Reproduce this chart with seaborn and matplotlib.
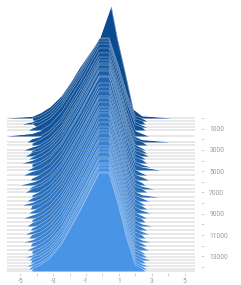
import matplotlib
matplotlib.use('Agg')
import matplotlib.pyplot as plt
import seaborn as sns

sns.set_style('ticks')
plt.rcParams['font.family'] = ['Roboto', 'DejaVu Sans']

# one histogram per recorded step, drawn back (top) to front (bottom)
steps = [0, 280, 560, 850, 1130, 1690, 2250, 2540, 3010, 3290,
         3570, 3850, 4230, 4600, 4890, 5360, 5830, 6300, 6670, 6960,
         7430, 7800, 8180, 8550, 8930, 9400, 9770, 10150, 10530, 10900,
         11280, 11650, 12030, 12410, 12780, 13060, 13350, 13630, 13910, 14190,
         14380]
# peak height of each histogram (offset-axis units)
peak_h = [10530, 7800, 7990, 8080, 8080, 8270, 8370, 8270, 8460, 8460,
          8550, 8460, 8650, 8550, 8740, 8650, 8740, 8840, 8740, 8840,
          8930, 8840, 8930, 9020, 8930, 9020, 8930, 9020, 9120, 9020,
          9120, 9020, 9120, 9210, 9120, 9210, 9120, 9210, 9210, 9120,
          9210]
# where the thin tails of each histogram end
left_tail = [-5.82, -4.2, -4.9, -4.0, -4.5, -5.82, -4.6, -4.3, -4.8, -4.4,
             -4.7, -4.5, -4.9, -4.3, -4.6, -4.8, -4.4, -5.0, -4.5, -4.7,
             -4.3, -4.6, -4.9, -4.4, -4.5, -4.8, -4.3, -4.6, -4.4, -4.7,
             -4.5, -4.8, -4.4, -4.6, -4.3, -4.7, -4.5, -4.4, -4.6, -4.5,
             -4.3]
right_tail = [4.2, 2.7, 2.6, 2.7, 2.6, 2.8, 4.1, 2.7, 2.6, 2.7,
              2.8, 2.6, 2.7, 2.9, 3.5, 2.7, 2.8, 2.6, 3.1, 2.7,
              3.4, 2.8, 2.6, 2.7, 2.9, 2.7, 2.6, 3.0, 2.7, 2.8,
              2.6, 2.9, 2.7, 2.8, 2.6, 2.7, 2.9, 2.6, 2.8, 2.7,
              2.6]
# thickness of the tails where they join the body (offset-axis units)
left_thick = [150, 260, 200, 320, 180, 240, 300, 170, 280, 220,
              330, 190, 260, 300, 210, 350, 180, 270, 230, 320,
              200, 290, 250, 340, 190, 280, 230, 310, 200, 260,
              330, 210, 290, 240, 320, 190, 270, 300, 220, 260,
              180]
right_thick = [200, 260, 300, 180, 280, 240, 220, 320, 190, 270,
               300, 210, 330, 250, 280, 190, 300, 240, 260, 320,
               220, 280, 190, 300, 260, 230, 310, 200, 270, 240,
               300, 190, 260, 320, 220, 280, 250, 300, 210, 270,
               240]

# shape of the first (sharp) histogram, fraction of its peak
first_x = [-3.8, -3.2, -2.5, -1.9, -1.4, -0.8, -0.2, 0.52, 0.9, 1.4, 1.86]
first_rel = [0.045, 0.10, 0.2, 0.33, 0.45, 0.58, 0.7, 1.0, 0.71, 0.39, 0.08]
# shape of the later histograms, fraction of peak
body_x = [-3.8, -3.2, -2.5, -1.9, -1.4, -0.8, -0.2, 0.4, 1.0, 1.5, 2.0]
body_rel = [0.06, 0.13, 0.27, 0.45, 0.6, 0.8, 1.0, 1.0, 0.65, 0.32, 0.06]

xmin, xmax = -5.82, 5.64
n = len(steps)
colors = sns.blend_palette(['#0a4a8f', '#4a94e6'], n)

fig = plt.figure(figsize=(2.41, 2.85), dpi=100)
ax = fig.add_axes([7/241, 12/285, 188/241, 273/285])

for i in range(n):
    base = steps[i]
    if i == 0:
        px, rel = first_x, first_rel
    else:
        px, rel = body_x, body_rel
    xs = [left_tail[i], -4.3] + list(px) + [2.4, right_tail[i]]
    ys = ([base, base - left_thick[i]]
          + [base - r * peak_h[i] for r in rel]
          + [base - right_thick[i], base])
    ax.plot([xmin, xmax], [base, base], color='#e2e2e2', lw=1.1,
            solid_capstyle='butt', zorder=3*i)
    ax.fill_between(xs, base, ys, color=colors[i], lw=0, zorder=3*i+1)
    sns.lineplot(x=xs, y=ys, ax=ax, color='white', lw=0.4, alpha=0.55,
                 estimator=None, sort=False, zorder=3*i+2)

ax.set_xlim(xmin, xmax)
ax.set_ylim(14570, -11090)

ax.set_xticks(range(-5, 6))
ax.set_xticklabels([str(v) if v % 2 else '' for v in range(-5, 6)])
ax.yaxis.tick_right()
ax.set_yticks(range(0, 15000, 1000))
ax.set_yticklabels([str(v) if (v // 1000) % 2 else '' for v in range(0, 15000, 1000)])

for s in ax.spines.values():
    s.set_visible(False)
ax.spines['right'].set_position(('outward', 4))
ax.tick_params(axis='both', colors='#cccccc', labelcolor='#999999',
               length=2.2, width=0.6, labelsize=4.8)
ax.tick_params(axis='y', pad=4)
ax.tick_params(axis='x', pad=1.5)
ax.set_xlabel('')
ax.set_ylabel('')

fig.savefig('out.png', dpi=100)
